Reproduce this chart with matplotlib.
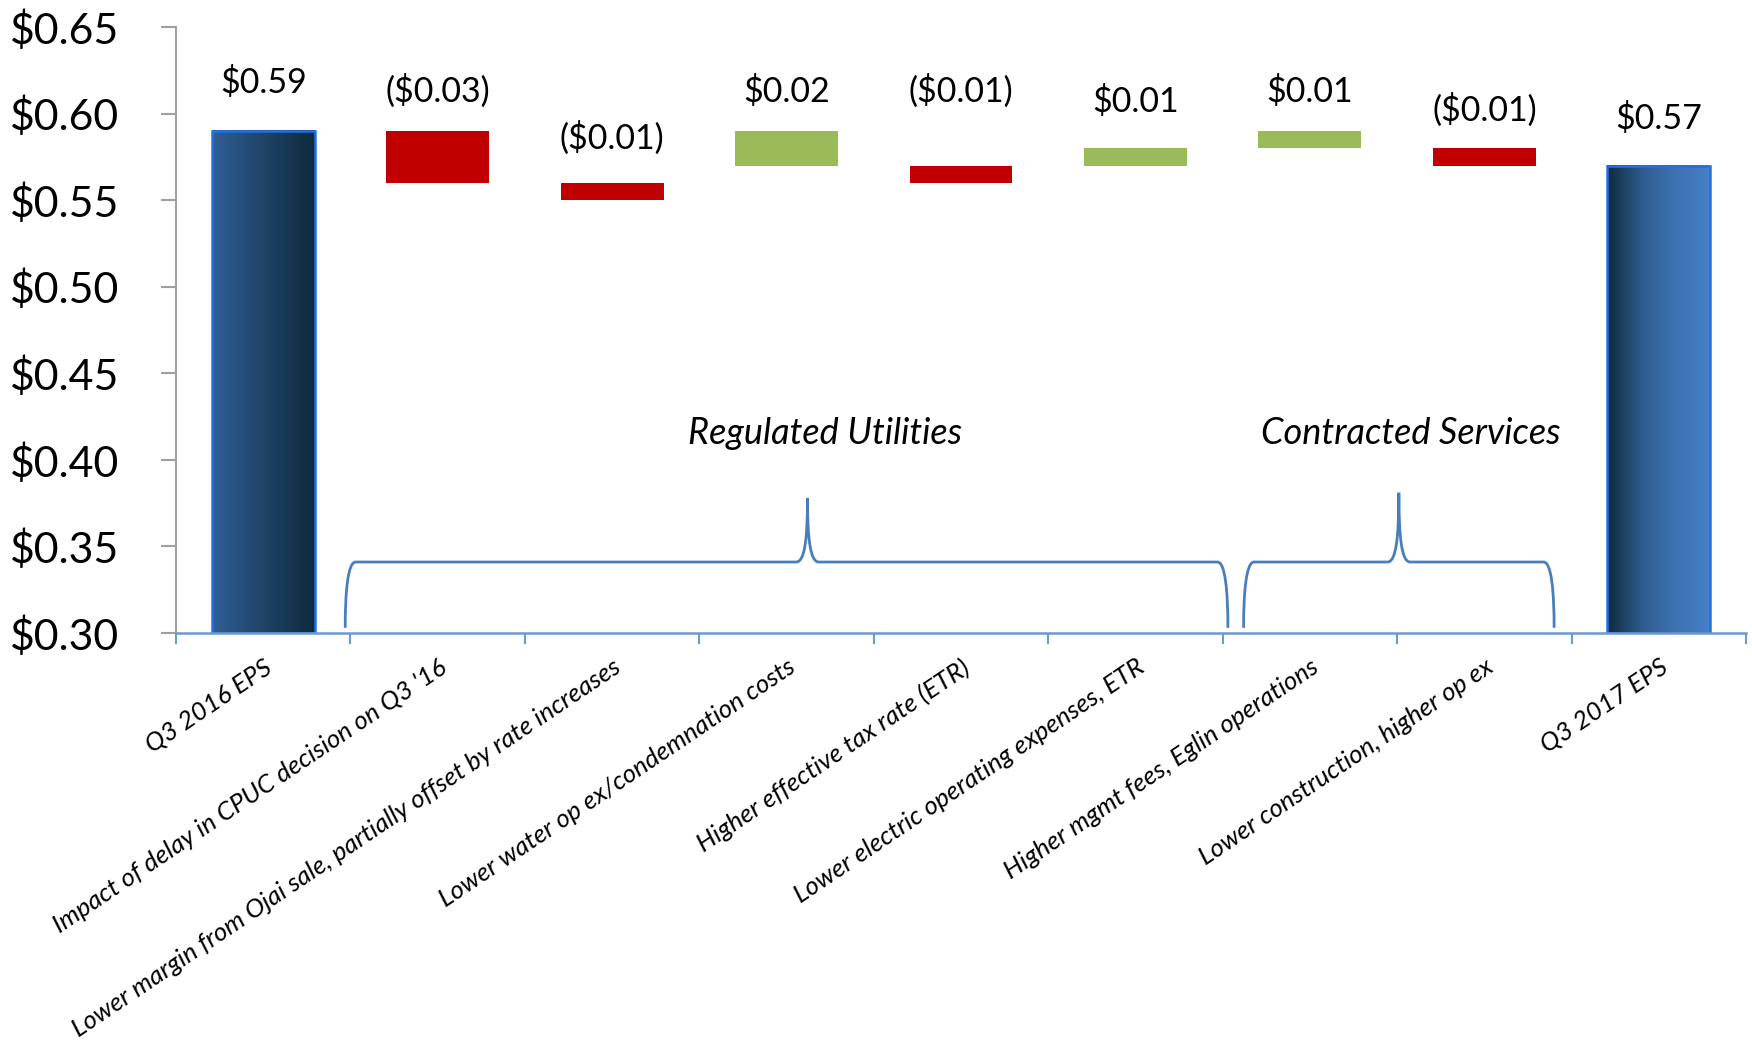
import numpy as np
import matplotlib
matplotlib.use('Agg')
import matplotlib.pyplot as plt
from matplotlib.path import Path
from matplotlib.patches import PathPatch, Rectangle
from matplotlib.colors import LinearSegmentedColormap

plt.rcParams['font.family'] = ['Lato', 'DejaVu Sans']

# ---------------- data ----------------
categories = [
    "Q3 2016 EPS",
    "Impact of delay in CPUC decision on Q3 '16",
    "Lower margin from Ojai sale, partially offset by rate increases",
    "Lower water op ex/condemnation costs",
    "Higher effective tax rate (ETR)",
    "Lower electric operating expenses, ETR",
    "Higher mgmt fees, Eglin operations",
    "Lower construction, higher op ex",
    "Q3 2017 EPS",
]
bar_bottom = [0.30, 0.56, 0.55, 0.57, 0.56, 0.57, 0.58, 0.57, 0.30]
bar_top = [0.59, 0.59, 0.56, 0.59, 0.57, 0.58, 0.59, 0.58, 0.57]
bar_kind = ["start", "neg", "neg", "pos", "neg", "pos", "pos", "neg", "end"]
value_labels = ["$0.59", "($0.03)", "($0.01)", "$0.02", "($0.01)",
                "$0.01", "$0.01", "($0.01)", "$0.57"]
label_y = [0.618, 0.613, 0.586, 0.613, 0.613, 0.607, 0.613, 0.602, 0.597]

yticks = [0.30, 0.35, 0.40, 0.45, 0.50, 0.55, 0.60, 0.65]
ytick_labels = ["$0.30", "$0.35", "$0.40", "$0.45", "$0.50", "$0.55", "$0.60", "$0.65"]

group_names = ["Regulated Utilities", "Contracted Services"]
group_left = [0.47, 5.62]
group_right = [5.53, 7.40]
group_tip_x = [3.12, 6.51]
group_tip_y = [0.378, 0.381]
group_text_x = [3.22, 6.58]
group_text_y = [0.415, 0.415]
brace_base = 0.303
brace_line = 0.341

# ---------------- style ----------------
RED = "#C00000"
GREEN = "#9BBB59"
EDGE = "#2070E8"
BRACE = "#4A7EBB"
XAXIS = "#6F98CC"
YAXIS = "#A0A0A0"
grad_start = ["#2F5F97", "#1F4468", "#0E2A3D"]
grad_end = ["#0E2A3D", "#2E5C8E", "#3E72B2", "#4680C6"]

W, H = 1752, 1049
fig = plt.figure(figsize=(W / 100, H / 100), dpi=100)
ax = fig.add_axes([176 / W, 1 - 633 / H, (1746 - 176) / W, (633 - 27) / H])

x = np.arange(len(categories))
heights = [t - b for t, b in zip(bar_top, bar_bottom)]
colors = []
for k in bar_kind:
    colors.append(RED if k == "neg" else GREEN if k == "pos" else "none")
bars = ax.bar(x, heights, bottom=bar_bottom, width=0.59, color=colors,
              edgecolor="none", zorder=3)

for bar, kind in zip(bars, bar_kind):
    if kind in ("start", "end"):
        cols = grad_start if kind == "start" else grad_end
        cmap = LinearSegmentedColormap.from_list("g", cols)
        x0, y0 = bar.get_x(), bar.get_y()
        w, h = bar.get_width(), bar.get_height()
        grad = np.linspace(0, 1, 256).reshape(1, -1)
        ax.imshow(grad, extent=[x0, x0 + w, y0, y0 + h], aspect="auto",
                  cmap=cmap, zorder=3, interpolation="bicubic")
        ax.add_patch(Rectangle((x0, y0), w, h, facecolor="none",
                               edgecolor=EDGE, lw=1.8, zorder=4))

for xi, lab, ly in zip(x, value_labels, label_y):
    ax.text(xi, ly, lab, ha="center", va="center", fontsize=24.5, color="black")


def brace_path(xl, xr, xt, yb, yl, yt):
    aw = 0.06   # arm curvature width (data units)
    tw = 0.065  # tip curvature width
    verts = [
        (xl, yb),
        (xl, yb + 0.55 * (yl - yb)), (xl + 0.25 * aw, yl), (xl + aw, yl),
        (xt - tw, yl),
        (xt - 0.25 * tw, yl), (xt, yl + 0.35 * (yt - yl)), (xt, yt),
        (xt, yl + 0.35 * (yt - yl)), (xt + 0.25 * tw, yl), (xt + tw, yl),
        (xr - aw, yl),
        (xr - 0.25 * aw, yl), (xr, yb + 0.55 * (yl - yb)), (xr, yb),
    ]
    codes = [Path.MOVETO,
             Path.CURVE4, Path.CURVE4, Path.CURVE4,
             Path.LINETO,
             Path.CURVE4, Path.CURVE4, Path.CURVE4,
             Path.CURVE4, Path.CURVE4, Path.CURVE4,
             Path.LINETO,
             Path.CURVE4, Path.CURVE4, Path.CURVE4]
    return Path(verts, codes)


for name, xl, xr, xt, yt, tx, ty in zip(group_names, group_left, group_right,
                                         group_tip_x, group_tip_y,
                                         group_text_x, group_text_y):
    ax.add_patch(PathPatch(brace_path(xl, xr, xt, brace_base, brace_line, yt),
                           facecolor="none", edgecolor=BRACE, lw=2, zorder=2))
    ax.text(tx, ty, name, ha="center", va="center", fontsize=26,
            fontstyle="italic", color="black")

ax.set_xlim(-0.5, len(categories) - 0.5)
ax.set_ylim(0.30, 0.65)

ax.set_yticks(yticks)
ax.set_yticklabels(ytick_labels, fontsize=30.8)
ax.tick_params(axis="y", direction="out", length=11, width=1.5, color=YAXIS,
               pad=30)

ax.set_xticks(x)
ax.set_xticklabels(categories, rotation=34, ha="right", rotation_mode="anchor",
                   fontsize=18.6, fontstyle="italic")
ax.set_xticks(np.arange(-0.5, len(categories), 1.0), minor=True)
ax.tick_params(axis="x", which="major", length=0, pad=16)
ax.tick_params(axis="x", which="minor", direction="out", length=8, width=1.5,
               color=XAXIS)

for s in ("top", "right"):
    ax.spines[s].set_visible(False)
ax.spines["left"].set_color(YAXIS)
ax.spines["left"].set_linewidth(1.5)
ax.spines["bottom"].set_color(XAXIS)
ax.spines["bottom"].set_linewidth(1.8)
ax.spines["bottom"].set_zorder(5)

fig.savefig("out.png", dpi=100, facecolor="white")
